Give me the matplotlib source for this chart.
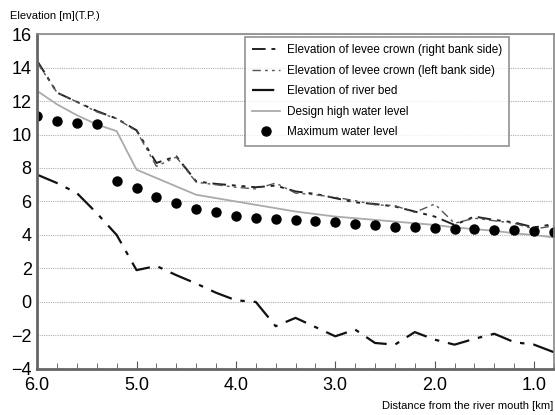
import matplotlib.pyplot as plt
from matplotlib.ticker import MultipleLocator

plt.rcParams['font.family'] = ['Liberation Sans', 'DejaVu Sans']

# distance from river mouth [km], one station every 0.2 km
dist = [6.0, 5.8, 5.6, 5.4, 5.2, 5.0, 4.8, 4.6, 4.4, 4.2, 4.0, 3.8, 3.6, 3.4,
        3.2, 3.0, 2.8, 2.6, 2.4, 2.2, 2.0, 1.8, 1.6, 1.4, 1.2, 1.0, 0.8]

levee_right = [14.4, 12.5, 11.95, 11.4, 10.95, 10.25, 8.3, 8.7, 7.2, 7.05, 6.95,
               6.85, 6.95, 6.6, 6.45, 6.2, 5.95, 5.85, 5.7, 5.4, 5.1, 4.6, 5.1,
               4.9, 4.75, 4.45, 4.65]
levee_left = [14.3, 12.5, 11.95, 11.35, 10.95, 10.2, 8.1, 8.65, 7.15, 7.0, 6.85,
              6.75, 7.1, 6.5, 6.4, 6.25, 6.05, 5.8, 5.75, 5.35, 5.85, 4.7, 5.0,
              4.85, 4.7, 4.35, 4.55]
river_bed = [7.6, 7.1, 6.5, 5.3, 4.0, 1.9, 2.15, 1.6, 1.1, 0.55, 0.1, 0.0, -1.45,
             -0.95, -1.5, -2.05, -1.65, -2.45, -2.55, -1.8, -2.25, -2.55, -2.2,
             -1.9, -2.4, -2.55, -3.0]
design_hwl = [12.6, 11.8, 11.15, 10.6, 10.2, 7.9, 7.4, 6.9, 6.4, 6.2, 6.0, 5.8,
              5.6, 5.4, 5.25, 5.1, 5.0, 4.9, 4.8, 4.7, 4.6, 4.45, 4.35, 4.25,
              4.1, 4.0, 3.85]
max_wl = [11.1, 10.8, 10.7, 10.6, 7.25, 6.8, 6.25, 5.9, 5.55, 5.35, 5.15, 5.0,
          4.95, 4.9, 4.85, 4.8, 4.65, 4.58, 4.48, 4.5, 4.42, 4.35, 4.33, 4.28,
          4.27, 4.24, 4.2]

fig = plt.figure(figsize=(5.55, 4.15), dpi=100)
ax = fig.add_axes([0.067, 0.111, 0.931, 0.807])

ax.plot(dist, levee_right, color='#222222', lw=1.4, dashes=(7, 3, 2, 3, 2, 3),
        label='Elevation of levee crown (right bank side)')
ax.plot(dist, levee_left, color='#555555', lw=1.0, dashes=(6, 3, 2, 3, 2, 3),
        label='Elevation of levee crown (left bank side)')
ax.plot(dist, river_bed, color='#111111', lw=1.6, dashes=(10, 4, 2, 4),
        label='Elevation of river bed')
ax.plot(dist, design_hwl, color='#aaaaaa', lw=1.3, label='Design high water level')
ax.plot(dist, max_wl, 'o', color='black', ms=6.5, label='Maximum water level')

ax.set_xlim(6.0, 0.8)
ax.set_ylim(-4, 16)
ax.xaxis.set_major_locator(MultipleLocator(1.0))
ax.xaxis.set_minor_locator(MultipleLocator(0.2))
ax.yaxis.set_major_locator(MultipleLocator(2))
ax.xaxis.set_major_formatter(plt.FuncFormatter(lambda v, p: f'{v:.1f}'))
ax.tick_params(axis='x', which='major', direction='in', length=6, labelsize=13,
               color='#555555', pad=6)
ax.tick_params(axis='x', which='minor', direction='in', length=4, color='#555555')
ax.tick_params(axis='y', length=0, labelsize=13, pad=4)
ax.grid(axis='y', color='#b0b0b0', ls=(0, (1, 1)), lw=0.8)
for side in ['left', 'bottom']:
    ax.spines[side].set_color('#666666')
    ax.spines[side].set_linewidth(2)
for side in ['top', 'right']:
    ax.spines[side].set_color('#888888')
    ax.spines[side].set_linewidth(1.2)

leg = ax.legend(loc='upper right', bbox_to_anchor=(0.913, 0.99), fontsize=8.5,
                frameon=True, fancybox=False, handlelength=2.3, borderpad=0.6,
                labelspacing=0.72, borderaxespad=0, handletextpad=0.6)
leg.get_frame().set_edgecolor('#777777')
leg.get_frame().set_linewidth(1.2)

fig.text(0.018, 0.962, 'Elevation [m](T.P.)', fontsize=8, va='center')
fig.text(0.996, 0.022, 'Distance from the river mouth [km]', fontsize=8,
         ha='right', va='center')

fig.savefig('out.png', dpi=100)
